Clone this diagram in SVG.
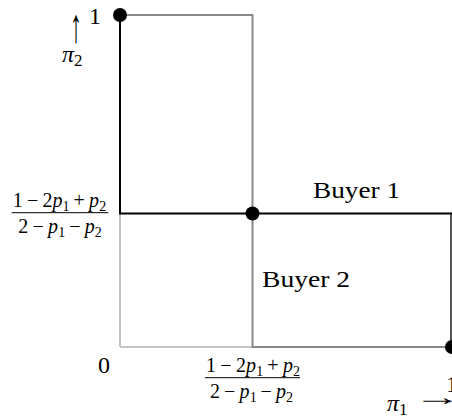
<svg xmlns="http://www.w3.org/2000/svg" width="452" height="418" viewBox="0 0 452 418">
<style>
text{font-family:"Liberation Serif","DejaVu Serif",serif;fill:#000}
.m{font-size:24px}
.ar{font-size:48px}
.f{font-size:20px}
.s{font-size:14px}
.s2{font-size:17px}
.it{font-style:italic}
.ln{fill:none;stroke-width:2;stroke-linecap:butt}
.blk{stroke:#000}
.gry{stroke:#8a8a8a}
.lgt{stroke:#c4c4c4}
.dk{stroke:#555}
.bar{stroke:#000;stroke-width:1}
.dot{fill:#000}
</style>
<rect width="452" height="418" fill="#fff"/>
<g id="connectors">
<line class="ln lgt" x1="120" y1="213.5" x2="120" y2="347"/>
<line class="ln lgt" x1="120" y1="347" x2="252.5" y2="347"/>
<line class="ln gry" x1="120" y1="15" x2="252.5" y2="15"/>
<line class="ln gry" x1="252.5" y1="14" x2="252.5" y2="348"/>
<line class="ln gry" x1="252.5" y1="347" x2="452" y2="347"/>
<line class="ln dk" x1="451" y1="213.5" x2="451" y2="347"/>
<line class="ln blk" x1="120" y1="15" x2="120" y2="214.5"/>
<line class="ln blk" x1="120" y1="213.5" x2="452" y2="213.5"/>
</g>
<g id="dot-top"><circle class="dot" cx="120" cy="15" r="7"/></g>
<g id="dot-mid"><circle class="dot" cx="252.5" cy="213.5" r="7"/></g>
<g id="dot-right"><circle class="dot" cx="452" cy="347" r="7"/></g>
<g id="label-y">
<text class="m" x="89" y="24">1</text>
<g transform="translate(76,27) scale(0.5,1)"><text class="ar" x="0" y="14.5" text-anchor="middle">↑</text></g>
<text class="m" x="62" y="61.5"><tspan class="it">π</tspan><tspan class="s2" y="65.5">2</tspan></text>
</g>
<g id="label-yfrac">
<text class="f" y="206.5"><tspan x="12.7">1</tspan><tspan x="26.9">−</tspan><tspan x="42.4">2</tspan><tspan class="it" x="52.4">p</tspan><tspan class="s" x="62.6" y="210.5">1</tspan><tspan x="73.6" y="206.5">+</tspan><tspan class="it" x="89.1">p</tspan><tspan class="s" x="99.2" y="210.5">2</tspan></text>
<line class="bar" x1="11.7" y1="212.7" x2="108.3" y2="212.7"/>
<text class="f" y="233"><tspan x="18.3">2</tspan><tspan x="32.5">−</tspan><tspan class="it" x="48">p</tspan><tspan class="s" x="58.2" y="237">1</tspan><tspan x="69.2" y="233">−</tspan><tspan class="it" x="84.7">p</tspan><tspan class="s" x="94.8" y="237">2</tspan></text>
</g>
<g id="label-origin"><text class="m" x="98" y="373">0</text></g>
<g id="label-xfrac">
<text class="f" y="371.7"><tspan x="206">1</tspan><tspan x="220.3">−</tspan><tspan x="236">2</tspan><tspan class="it" x="246">p</tspan><tspan class="s" x="256.2" y="375.7">1</tspan><tspan x="267.3" y="371.7">+</tspan><tspan class="it" x="283">p</tspan><tspan class="s" x="293.1" y="375.7">2</tspan></text>
<line class="bar" x1="205" y1="377.7" x2="300" y2="377.7"/>
<text class="f" y="398.3"><tspan x="210">2</tspan><tspan x="224.1">−</tspan><tspan class="it" x="239.5">p</tspan><tspan class="s" x="249.7" y="402.3">1</tspan><tspan x="260.6" y="398.3">−</tspan><tspan class="it" x="276">p</tspan><tspan class="s" x="286.1" y="402.3">2</tspan></text>
</g>
<g id="label-x">
<text class="m" x="446" y="392">1</text>
<text class="m" x="387" y="411"><tspan class="it">π</tspan><tspan class="s2" y="415">1</tspan></text>
<g transform="translate(437.5,401) scale(1,0.5)"><text class="ar" x="0" y="7" text-anchor="middle">→</text></g>
</g>
<g id="buyer1"><text class="m" x="313" y="198" textLength="87" lengthAdjust="spacingAndGlyphs">Buyer 1</text></g>
<g id="buyer2"><text class="m" x="262" y="286.5" textLength="88" lengthAdjust="spacingAndGlyphs">Buyer 2</text></g>
</svg>
